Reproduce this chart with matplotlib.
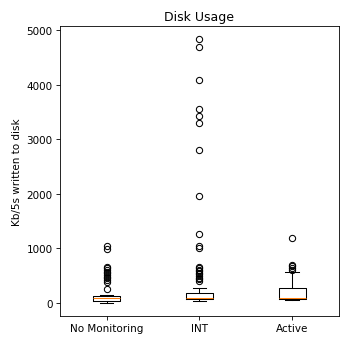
import matplotlib
matplotlib.use('Agg')
import matplotlib.pyplot as plt

# Box statistics (Kb/5s written to disk)
labels = ['No Monitoring', 'INT', 'Active']
whislo = [0, 40, 55]
q1 = [30, 70, 70]
med = [80, 85, 80]
q3 = [125, 180, 275]
whishi = [150, 280, 560]

fliers_nomon = [255, 390, 420, 450, 480, 510, 540, 570, 600, 630, 665,
                990, 1045]
fliers_int = [400, 430, 460, 490, 520, 550, 580, 610, 640, 660, 1000, 1050,
              1270, 1960, 2800, 3300, 3430, 3560, 4080, 4680, 4830]
fliers_active = [610, 640, 670, 700, 1180]
fliers = [fliers_nomon, fliers_int, fliers_active]

stats = []
for i in range(len(labels)):
    stats.append({'label': labels[i], 'whislo': whislo[i], 'q1': q1[i],
                  'med': med[i], 'q3': q3[i], 'whishi': whishi[i],
                  'fliers': fliers[i]})

fig = plt.figure(figsize=(341 / 75, 342 / 75), dpi=75)
ax = fig.add_axes([0.176, 0.073, 0.818, 0.848])
ax.bxp(stats)
ax.set_title('Disk Usage')
ax.set_ylabel('Kb/5s written to disk')
plt.savefig('out.png', dpi=75)
